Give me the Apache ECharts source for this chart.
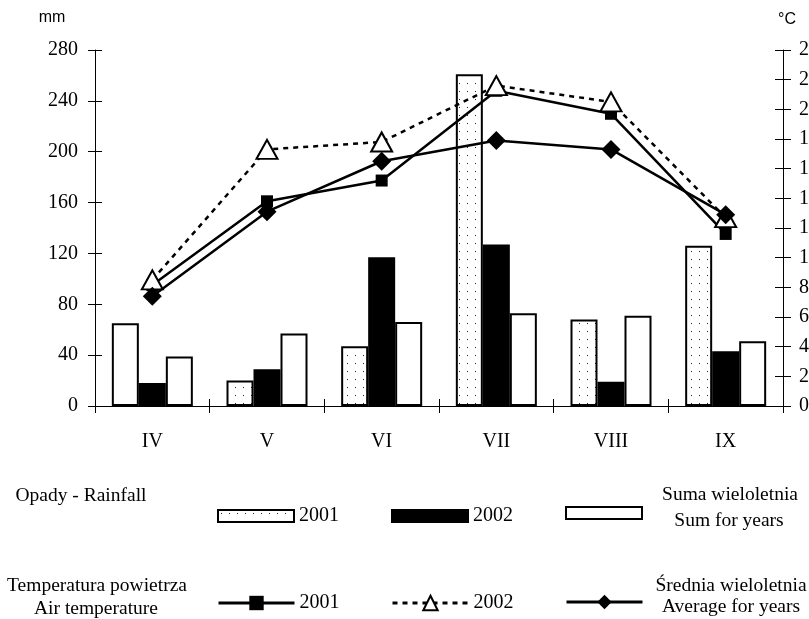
<!DOCTYPE html>
<html>
<head>
<meta charset="utf-8">
<script src="https://cdn.jsdelivr.net/npm/echarts@6/dist/echarts.min.js"></script>
<style>html,body{margin:0;padding:0;background:#fff}#c{width:809px;height:619px}</style>
</head>
<body>
<div id="c"></div>
<script>
// ---- data ----
var months = ['IV', 'V', 'VI', 'VII', 'VIII', 'IX'];
var rain2001 = [65, 20, 47, 261, 68, 126];
var rain2002 = [18, 29, 117, 127, 19, 43];
var rainSum = [39, 57, 66, 73, 71, 51];
var temp2001 = [8.15, 13.8, 15.2, 21.25, 19.7, 11.6];
var temp2002 = [8.5, 17.3, 17.8, 21.6, 20.5, 12.7];
var tempAvg = [7.4, 13.1, 16.5, 17.9, 17.3, 12.9];
var mmTicks = {min: 0, max: 280, interval: 40};
var cTicks = {min: 0, max: 24, interval: 2};

// ---- styles ----
var SERIF = 'Liberation Serif';
var cv = document.createElement('canvas');
cv.width = 8; cv.height = 8;
var cx = cv.getContext('2d');
cx.fillStyle = '#fff'; cx.fillRect(0, 0, 8, 8);
cx.fillStyle = '#222'; cx.fillRect(3, 3, 1, 1);
var dotPattern = {image: cv, repeat: 'repeat'};

var chart = echarts.init(document.getElementById('c'), null, {renderer: 'canvas'});

var rain2001Data = rain2001.map(function (v, i) {
  return i === 0 ? {value: v, itemStyle: {color: '#fff'}} : v;
});

function legendAt(name, left, top, label, isBar) {
  var l = {
    data: [name], left: left, top: top, padding: 0,
    itemWidth: 76, itemHeight: isBar ? 12 : 18, orient: 'horizontal',
    selectedMode: false,
    formatter: function () { return label; },
    textStyle: {fontFamily: SERIF, fontSize: 20, color: '#000', padding: [0, 0, 0, 0]}
  };
  if (isBar) { l.icon = 'rect'; } else { l.lineStyle = {width: 3}; }
  return l;
}

var axisLabelStyle = {fontFamily: SERIF, fontSize: 20, color: '#000'};

var option = {
  animation: false,
  backgroundColor: '#fff',
  grid: {left: 95, right: 26, top: 50, bottom: 213, containLabel: false, outerBoundsMode: 'none'},
  xAxis: [{
    type: 'category', data: months, position: 'bottom',
    axisLine: {show: true, lineStyle: {color: '#000', width: 1}},
    axisTick: {show: true, length: 7, lineStyle: {color: '#000'}},
    axisLabel: Object.assign({margin: 26}, axisLabelStyle),
    splitLine: {show: false}
  }, {
    type: 'category', data: months, position: 'bottom',
    axisLine: {show: false},
    axisTick: {show: true, inside: true, length: 7, lineStyle: {color: '#000'}},
    axisLabel: {show: false},
    splitLine: {show: false}
  }],
  yAxis: [{
    type: 'value', position: 'left', min: mmTicks.min, max: mmTicks.max, interval: mmTicks.interval,
    axisLine: {show: true, lineStyle: {color: '#000', width: 1}},
    axisTick: {show: true, length: 7, lineStyle: {color: '#000'}},
    axisLabel: Object.assign({margin: 17}, axisLabelStyle),
    splitLine: {show: false}
  }, {
    type: 'value', position: 'right', min: cTicks.min, max: cTicks.max, interval: cTicks.interval,
    axisLine: {show: true, lineStyle: {color: '#000', width: 1}},
    axisTick: {show: true, length: 8, lineStyle: {color: '#000'}},
    axisLabel: Object.assign({margin: 16}, axisLabelStyle),
    splitLine: {show: false}
  }, {
    type: 'value', position: 'left', min: mmTicks.min, max: mmTicks.max, interval: mmTicks.interval,
    axisLine: {show: false},
    axisTick: {show: true, inside: true, length: 7, lineStyle: {color: '#000'}},
    axisLabel: {show: false}, splitLine: {show: false}
  }, {
    type: 'value', position: 'right', min: cTicks.min, max: cTicks.max, interval: cTicks.interval,
    axisLine: {show: false},
    axisTick: {show: true, inside: true, length: 8, lineStyle: {color: '#000'}},
    axisLabel: {show: false}, splitLine: {show: false}
  }],
  legend: [
    legendAt('Opady 2001', 217, 506, '2001', true),
    legendAt('Opady 2002', 391, 506, '2002', true),
    legendAt('Suma wieloletnia', 565, 506, '', true),
    legendAt('Temperatura 2001', 217, 593, '2001', false),
    legendAt('Temperatura 2002', 391, 593, '2002', false),
    legendAt('Średnia wieloletnia', 565, 593, '', false)
  ],
  series: [{
    name: 'Opady 2001', type: 'bar', xAxisIndex: 0, yAxisIndex: 0,
    data: rain2001Data, barWidth: 27, barGap: '0%',
    itemStyle: {color: dotPattern, borderColor: '#000', borderWidth: 2}
  }, {
    name: 'Opady 2002', type: 'bar', xAxisIndex: 0, yAxisIndex: 0,
    data: rain2002, barWidth: 27, barGap: '0%',
    itemStyle: {color: '#000', borderColor: '#000', borderWidth: 2}
  }, {
    name: 'Suma wieloletnia', type: 'bar', xAxisIndex: 0, yAxisIndex: 0,
    data: rainSum, barWidth: 27, barGap: '0%',
    itemStyle: {color: '#fff', borderColor: '#000', borderWidth: 2}
  }, {
    name: 'Temperatura 2001', type: 'line', xAxisIndex: 0, yAxisIndex: 1,
    data: temp2001, symbol: 'rect', symbolSize: 12, showAllSymbol: true,
    itemStyle: {color: '#000'},
    lineStyle: {color: '#000', width: 2.5, type: 'solid'}, z: 3
  }, {
    name: 'Temperatura 2002', type: 'line', xAxisIndex: 0, yAxisIndex: 1,
    data: temp2002, symbol: 'triangle', symbolSize: [21, 19], showAllSymbol: true,
    itemStyle: {color: '#fff', borderColor: '#000', borderWidth: 2},
    lineStyle: {color: '#000', width: 2.5, type: [5, 5]}, z: 4
  }, {
    name: 'Średnia wieloletnia', type: 'line', xAxisIndex: 0, yAxisIndex: 1,
    data: tempAvg, symbol: 'diamond', symbolSize: 19, showAllSymbol: true,
    itemStyle: {color: '#000'},
    lineStyle: {color: '#000', width: 2.5, type: 'solid'}, z: 5
  }],
  graphic: [
    {type: 'text', x: 52, y: 18, style: {text: 'mm', font: '16px "Liberation Sans"', fill: '#000', textAlign: 'center', textVerticalAlign: 'middle'}},
    {type: 'text', x: 778, y: 20, style: {text: '°C', font: '16px "Liberation Sans"', fill: '#000', textAlign: 'left', textVerticalAlign: 'middle'}},
    {type: 'text', x: 81, y: 496, style: {text: 'Opady - Rainfall', font: '19.5px "Liberation Serif"', fill: '#000', textAlign: 'center', textVerticalAlign: 'middle'}},
    {type: 'text', x: 730, y: 495, style: {text: 'Suma wieloletnia', font: '19.5px "Liberation Serif"', fill: '#000', textAlign: 'center', textVerticalAlign: 'middle'}},
    {type: 'text', x: 729, y: 521, style: {text: 'Sum for years', font: '19.5px "Liberation Serif"', fill: '#000', textAlign: 'center', textVerticalAlign: 'middle'}},
    {type: 'text', x: 97, y: 586, style: {text: 'Temperatura powietrza', font: '19.5px "Liberation Serif"', fill: '#000', textAlign: 'center', textVerticalAlign: 'middle'}},
    {type: 'text', x: 96, y: 609, style: {text: 'Air temperature', font: '19.5px "Liberation Serif"', fill: '#000', textAlign: 'center', textVerticalAlign: 'middle'}},
    {type: 'text', x: 731, y: 586, style: {text: 'Średnia wieloletnia', font: '19.5px "Liberation Serif"', fill: '#000', textAlign: 'center', textVerticalAlign: 'middle'}},
    {type: 'text', x: 731, y: 607, style: {text: 'Average for years', font: '19.5px "Liberation Serif"', fill: '#000', textAlign: 'center', textVerticalAlign: 'middle'}}
  ]
};
chart.setOption(option);
</script>
</body>
</html>
